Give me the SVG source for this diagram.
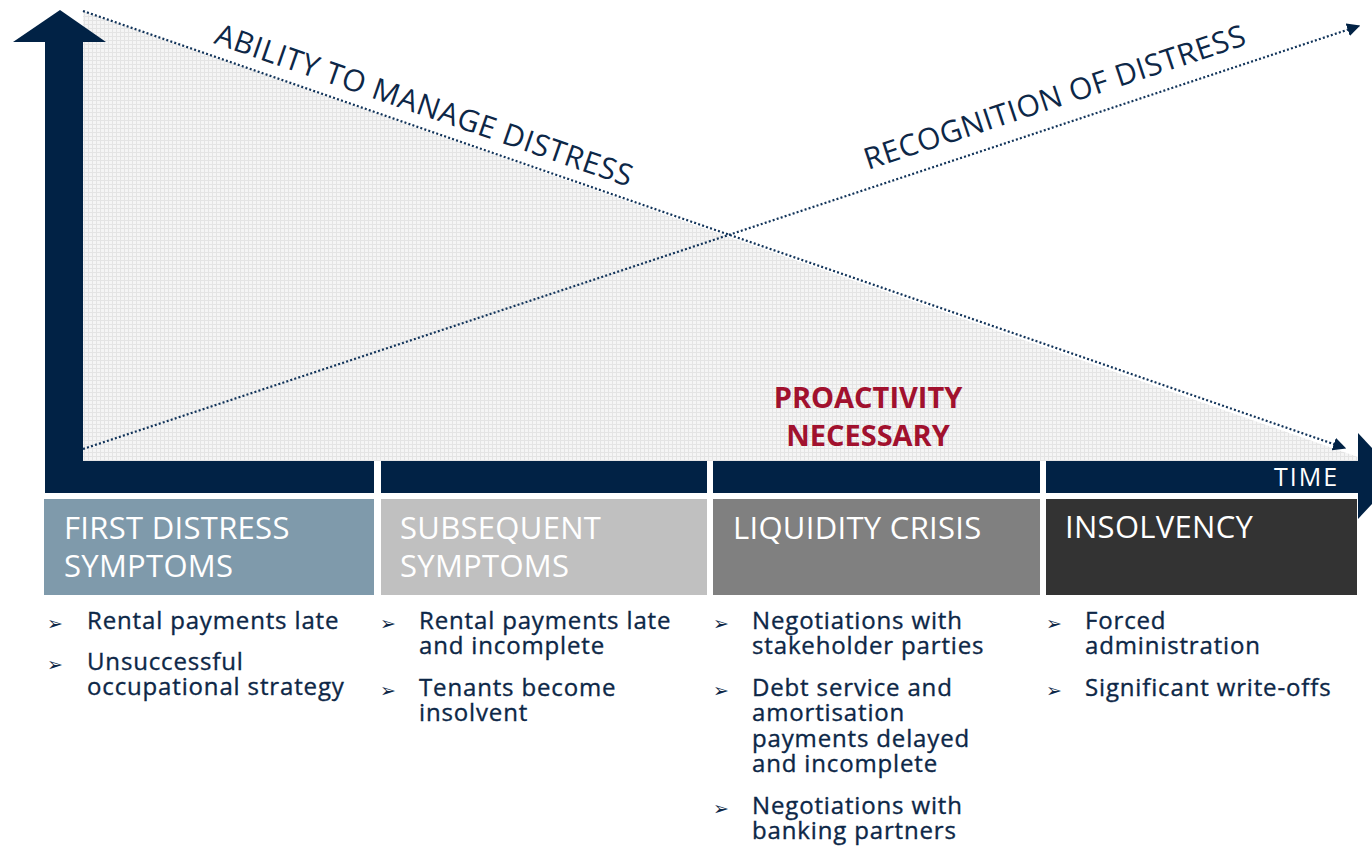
<svg xmlns="http://www.w3.org/2000/svg" width="1372" height="846" viewBox="0 0 1372 846">
  <style>
    .navy { fill: #012245; }
    .dots { fill: none; stroke: #12345a; stroke-width: 2.2; stroke-dasharray: 2 2.2; }
    .axis-label { font-family: "Open Sans", "Noto Sans", sans-serif; font-size: 30px; fill: #0d2747; letter-spacing: 0.6px; }
    .phase { font-family: "Open Sans", "Noto Sans", sans-serif; font-size: 31px; fill: #ffffff; letter-spacing: 0.3px; }
    .item { font-family: "Open Sans", "Noto Sans", sans-serif; font-size: 24px; fill: #0d2747; letter-spacing: 0.85px; stroke: #0d2747; stroke-width: 0.35px; }
    .bullet { font-family: "DejaVu Sans", sans-serif; font-size: 19px; fill: #0d2747; }
    .alert { font-family: "Open Sans", "Noto Sans", sans-serif; font-size: 29px; font-weight: bold; fill: #a1112e; text-anchor: middle; }
  </style>
  <defs>
    <pattern id="grid" width="4" height="4" patternUnits="userSpaceOnUse">
      <rect width="4" height="4" fill="#f5f5f5"/>
      <rect width="4" height="1" fill="#e4e4e4"/>
      <rect width="1" height="4" fill="#e4e4e4"/>
    </pattern>
    <marker id="tip" viewBox="0 0 10 10" refX="9" refY="5" markerWidth="6" markerHeight="6" markerUnits="strokeWidth" orient="auto">
      <path d="M0,0 L10,5 L0,10 z" fill="#012245"/>
    </marker>
  </defs>

  <!-- shaded area under the declining ability line -->
  <polygon points="83,11 1358,457 1358,461 83,461" fill="url(#grid)"/>

  <!-- vertical axis -->
  <g id="axis-y">
    <rect class="navy" x="45" y="40" width="38" height="453"/>
    <polygon class="navy" points="13,42 60,10 106,42"/>
  </g>

  <!-- time axis, split into four phase segments -->
  <g id="axis-time">
    <rect class="navy" x="45" y="461" width="329" height="32"/>
    <rect class="navy" x="381" y="461" width="326" height="32"/>
    <rect class="navy" x="713" y="461" width="327" height="32"/>
    <rect class="navy" x="1046" y="461" width="312" height="32"/>
    <polygon class="navy" points="1358,433 1398,476 1358,519"/>
    <text x="1274" y="486" font-family="Open Sans, Noto Sans, sans-serif" font-size="25" letter-spacing="2" fill="#ffffff">TIME</text>
  </g>

  <!-- trend lines -->
  <g id="connectors">
    <line class="dots" x1="83" y1="11" x2="1345" y2="448" marker-end="url(#tip)"/>
    <line class="dots" x1="83" y1="449" x2="1359" y2="26" marker-end="url(#tip)"/>
  </g>

  <g id="label-ability">
    <text class="axis-label" transform="translate(213,43) rotate(19.1)">ABILITY TO MANAGE DISTRESS</text>
  </g>
  <g id="label-recognition">
    <text class="axis-label" transform="translate(868,170) rotate(-18.3)">RECOGNITION OF DISTRESS</text>
  </g>

  <g id="label-proactivity">
    <text class="alert" x="868" y="408">PROACTIVITY</text>
    <text class="alert" x="868" y="446">NECESSARY</text>
  </g>

  <!-- phase 1 -->
  <g id="phase-first">
    <rect x="44" y="499" width="330" height="96" fill="#7f9aab"/>
    <text class="phase" x="64" y="539">FIRST DISTRESS</text>
    <text class="phase" x="64" y="577">SYMPTOMS</text>
    <text class="bullet" x="47" y="630">➢</text>
    <text class="item" x="87" y="629">Rental payments late</text>
    <text class="bullet" x="47" y="671">➢</text>
    <text class="item" x="87" y="670">Unsuccessful</text>
    <text class="item" x="87" y="695">occupational strategy</text>
  </g>

  <!-- phase 2 -->
  <g id="phase-subsequent">
    <rect x="381" y="499" width="326" height="96" fill="#c0c0c0"/>
    <text class="phase" x="400" y="539">SUBSEQUENT</text>
    <text class="phase" x="400" y="577">SYMPTOMS</text>
    <text class="bullet" x="380" y="630">➢</text>
    <text class="item" x="419" y="629">Rental payments late</text>
    <text class="item" x="419" y="654">and incomplete</text>
    <text class="bullet" x="380" y="697">➢</text>
    <text class="item" x="419" y="696">Tenants become</text>
    <text class="item" x="419" y="721">insolvent</text>
  </g>

  <!-- phase 3 -->
  <g id="phase-liquidity">
    <rect x="713" y="499" width="327" height="96" fill="#808080"/>
    <text class="phase" x="733" y="539">LIQUIDITY CRISIS</text>
    <text class="bullet" x="713" y="630">➢</text>
    <text class="item" x="752" y="629">Negotiations with</text>
    <text class="item" x="752" y="654">stakeholder parties</text>
    <text class="bullet" x="713" y="697">➢</text>
    <text class="item" x="752" y="696">Debt service and</text>
    <text class="item" x="752" y="721">amortisation</text>
    <text class="item" x="752" y="747">payments delayed</text>
    <text class="item" x="752" y="772">and incomplete</text>
    <text class="bullet" x="713" y="815">➢</text>
    <text class="item" x="752" y="814">Negotiations with</text>
    <text class="item" x="752" y="839">banking partners</text>
  </g>

  <!-- phase 4 -->
  <g id="phase-insolvency">
    <rect x="1046" y="499" width="311" height="96" fill="#333333"/>
    <text class="phase" x="1065" y="538">INSOLVENCY</text>
    <text class="bullet" x="1046" y="630">➢</text>
    <text class="item" x="1085" y="629">Forced</text>
    <text class="item" x="1085" y="654">administration</text>
    <text class="bullet" x="1046" y="697">➢</text>
    <text class="item" x="1085" y="696">Significant write-offs</text>
  </g>
</svg>
